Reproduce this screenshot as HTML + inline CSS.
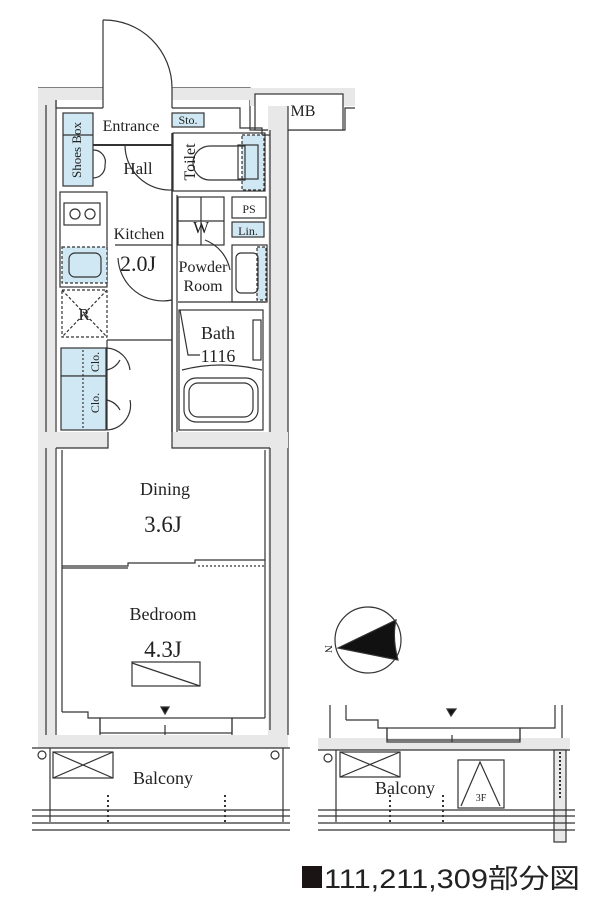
<!DOCTYPE html>
<html><head><meta charset="utf-8"><style>
body{margin:0;background:#fff;width:600px;height:905px;overflow:hidden}
svg{display:block}
text{font-family:"Liberation Serif",serif;fill:#222}
</style></head><body>
<svg width="600" height="905" viewBox="0 0 600 905" xmlns="http://www.w3.org/2000/svg">
<g stroke="#333" stroke-width="1.2" fill="none">
<path d="M38 88 H103 M172 88 H250 V130 H345 V108 H355" />
<rect x="38" y="88" width="65" height="12" fill="#e8e8e8" stroke="none"/>
<rect x="172" y="88" width="78" height="12" fill="#e8e8e8" stroke="none"/>
<rect x="250" y="88" width="105" height="18" fill="#e8e8e8" stroke="none"/>
<rect x="255" y="94" width="88" height="36" fill="#fff"/>
<rect x="38" y="100" width="17" height="640" fill="#e8e8e8" stroke="none"/>
<line x1="46" y1="105" x2="46" y2="735"/>
<line x1="56" y1="100" x2="56" y2="735"/>
<rect x="268" y="106" width="20" height="630" fill="#e8e8e8" stroke="none"/>
<line x1="270" y1="130" x2="270" y2="730"/>
<line x1="288" y1="106" x2="288" y2="735"/>
<path d="M56 100 V108 H103 M172 108 H240 V128 H262 V135 H270"/>
<line x1="103" y1="88" x2="103" y2="20"/>
<path d="M103 20 A68 68 0 0 1 172 88"/>
<line x1="103" y1="88" x2="103" y2="108"/><line x1="172" y1="88" x2="172" y2="108"/>
<rect x="63" y="113" width="30" height="73" fill="#cfe8f3"/>
<line x1="63" y1="135" x2="93" y2="135"/>
<line x1="93" y1="145" x2="172" y2="145" stroke-width="2"/>
<path d="M93 150 A12 12 0 0 1 105 165 M93 178 A12 12 0 0 0 105 165"/>
<rect x="172" y="113" width="32" height="14" fill="#cfe8f3"/>
<rect x="173" y="133" width="92" height="58"/>
<rect x="242" y="135" width="22" height="55" fill="#cfe8f3" stroke-dasharray="3 2"/>
<path d="M245 146 H210 A17 17 0 0 0 210 180 H245 Z"/>
<rect x="238" y="145" width="20" height="34"/>
<path d="M125 145 A45 45 0 0 0 172 190"/>
<line x1="172" y1="133" x2="172" y2="432" stroke-width="1.5"/>
<line x1="177" y1="195" x2="177" y2="432"/>
<rect x="60" y="192" width="47" height="95"/>
<rect x="64" y="203" width="36" height="22"/>
<circle cx="75" cy="214" r="5"/><circle cx="90" cy="214" r="5"/>
<rect x="62" y="247" width="45" height="36" fill="#cfe8f3" stroke-dasharray="3 2"/>
<rect x="69" y="253" width="32" height="24" rx="6" fill="#cfe8f3"/>
<rect x="62" y="290" width="45" height="47" stroke-dasharray="3 2"/>
<line x1="62" y1="290" x2="107" y2="337" stroke-dasharray="3 2"/><line x1="107" y1="290" x2="62" y2="337" stroke-dasharray="3 2"/>
<path d="M115 245 H172 M118 258 A45 45 0 0 0 172 300"/>
<rect x="61" y="348" width="45" height="28" fill="#cfe8f3"/>
<rect x="61" y="376" width="45" height="54" fill="#cfe8f3"/>
<line x1="83" y1="350" x2="83" y2="428" stroke-dasharray="2 2"/>
<line x1="107" y1="340" x2="172" y2="340"/>
<path d="M107 348 A25 25 0 0 1 130 370 M107 430 A25 25 0 0 0 130 400 M107 370 A20 20 0 0 0 120 360 M107 400 A20 20 0 0 1 120 410"/>
<path d="M107 340 V430"/>
<rect x="178" y="197" width="46" height="48"/>
<line x1="201" y1="197" x2="201" y2="245"/><line x1="178" y1="221" x2="224" y2="221"/>
<rect x="232" y="197" width="34" height="21"/>
<rect x="232" y="222" width="32" height="15" fill="#cfe8f3"/>
<rect x="232" y="245" width="35" height="57"/>
<rect x="257" y="247" width="9" height="53" fill="#cfe8f3" stroke-dasharray="3 2"/>
<rect x="236" y="253" width="22" height="40" rx="5"/>
<path d="M205 240 A40 40 0 0 1 230 270 M178 302 H266"/>
<rect x="179" y="310" width="84" height="120"/>
<rect x="253" y="320" width="8" height="40"/>
<path d="M182 370 Q220 360 262 370"/>
<rect x="184" y="378" width="74" height="44" rx="12"/>
<rect x="189" y="383" width="64" height="34" rx="9"/>
<path d="M180 310 L188 355 H200"/>
<rect x="38" y="432" width="70" height="16" fill="#e8e8e8" stroke="none"/>
<rect x="172" y="432" width="116" height="16" fill="#e8e8e8" stroke="none"/>
<path d="M56 448 H108 V432 M172 432 V448 H270"/>
<line x1="62" y1="450" x2="62" y2="712"/>
<line x1="265" y1="450" x2="265" y2="718"/>
<path d="M62 566 H128 V563 H195 V560 H265"/>
<line x1="62" y1="568" x2="128" y2="568"/>
<line x1="198" y1="566" x2="265" y2="566" stroke-dasharray="2 2"/>
<rect x="132" y="662" width="68" height="24"/>
<line x1="132" y1="663" x2="200" y2="686"/>
<path d="M62 712 H88 V718 H100 V740 H232 V718 H265"/>
<rect x="100" y="718" width="132" height="15"/>
<line x1="165" y1="725" x2="165" y2="740"/>
<rect x="38" y="735" width="250" height="13" fill="#e8e8e8" stroke="none"/>
<line x1="32" y1="748" x2="290" y2="748"/>
<polygon points="161,707 169,707 165,714" fill="#111"/>
<line x1="50" y1="748" x2="50" y2="822"/><line x1="283" y1="748" x2="283" y2="822"/>
<circle cx="42" cy="755" r="4"/><circle cx="275" cy="755" r="4"/>
<rect x="53" y="752" width="60" height="26"/><line x1="53" y1="752" x2="113" y2="778"/><line x1="113" y1="752" x2="53" y2="778"/>
<line x1="108" y1="795" x2="108" y2="822" stroke-dasharray="2 3" stroke-width="2"/>
<line x1="225" y1="795" x2="225" y2="822" stroke-dasharray="2 3" stroke-width="2"/>
<line x1="32" y1="810" x2="290" y2="810"/><line x1="32" y1="816" x2="290" y2="816"/>
<line x1="32" y1="823" x2="290" y2="823"/><line x1="32" y1="830" x2="290" y2="830"/>
<rect x="318" y="738" width="252" height="12" fill="#e8e8e8" stroke="none"/>
<line x1="330" y1="705" x2="330" y2="738"/><line x1="346" y1="705" x2="346" y2="720"/>
<path d="M346 720 H378 V728 H387 V740 H520 V728 H555 V705"/>
<rect x="387" y="728" width="133" height="14"/>
<line x1="452" y1="735" x2="452" y2="742"/>
<polygon points="447,709 456,709 451,716" fill="#111"/>
<line x1="562" y1="705" x2="562" y2="738"/>
<line x1="318" y1="750" x2="570" y2="750"/>
<line x1="336" y1="750" x2="336" y2="822"/>
<circle cx="328" cy="758" r="4"/>
<rect x="340" y="752" width="60" height="25"/><line x1="340" y1="752" x2="400" y2="777"/><line x1="400" y1="752" x2="340" y2="777"/>
<rect x="458" y="760" width="46" height="48"/><path d="M461 806 L480 762 L500 806"/>
<rect x="554" y="750" width="12" height="92" fill="#e8e8e8"/>
<line x1="560" y1="752" x2="560" y2="800" stroke-dasharray="2 2" stroke-width="2"/>
<line x1="390" y1="795" x2="390" y2="822" stroke-dasharray="2 3" stroke-width="2"/>
<line x1="443" y1="795" x2="443" y2="822" stroke-dasharray="2 3" stroke-width="2"/>
<line x1="318" y1="810" x2="575" y2="810"/><line x1="318" y1="816" x2="575" y2="816"/>
<line x1="318" y1="823" x2="575" y2="823"/><line x1="318" y1="830" x2="575" y2="830"/>
<circle cx="368" cy="640" r="33"/>
<path d="M338 648 L396 620 Q392 638 398 660 Z" fill="#111"/>
</g>
<g font-size="16" text-anchor="middle">
<text x="131" y="131">Entrance</text>
<text x="188" y="124" font-size="12">Sto.</text>
<text x="138" y="174" font-size="17">Hall</text>
<text x="195" y="162" transform="rotate(-90 195 162)">Toilet</text>
<text x="81" y="150" font-size="13" transform="rotate(-90 81 150)">Shoes Box</text>
<text x="139" y="239">Kitchen</text>
<text x="138" y="271" font-size="22">2.0J</text>
<text x="201" y="233" font-size="17">W</text>
<text x="249" y="213" font-size="12">PS</text>
<text x="248" y="235" font-size="12">Lin.</text>
<text x="203" y="272">Powder</text>
<text x="203" y="291">Room</text>
<text x="84" y="320" font-size="17">R</text>
<text x="218" y="339" font-size="18">Bath</text>
<text x="218" y="362" font-size="18">1116</text>
<text x="99" y="362" font-size="12" transform="rotate(-90 99 362)">Clo.</text>
<text x="99" y="403" font-size="12" transform="rotate(-90 99 403)">Clo.</text>
<text x="303" y="116">MB</text>
<text x="165" y="495" font-size="18">Dining</text>
<text x="163" y="532" font-size="23">3.6J</text>
<text x="163" y="620" font-size="18">Bedroom</text>
<text x="163" y="657" font-size="23">4.3J</text>
<text x="163" y="784" font-size="18">Balcony</text>
<text x="405" y="794" font-size="18">Balcony</text>
<text x="481" y="801" font-size="10">3F</text>
<text x="328" y="652" font-size="11" transform="rotate(90 328 649)">N</text>
</g>
<rect x="302" y="866" width="20" height="22" fill="#1a1414"/>
<text x="324" y="888" font-size="27" textLength="256" lengthAdjust="spacingAndGlyphs" style="font-family:'Liberation Sans','Noto Sans CJK JP',sans-serif">111,211,309部分図</text>
</svg>
</body></html>
